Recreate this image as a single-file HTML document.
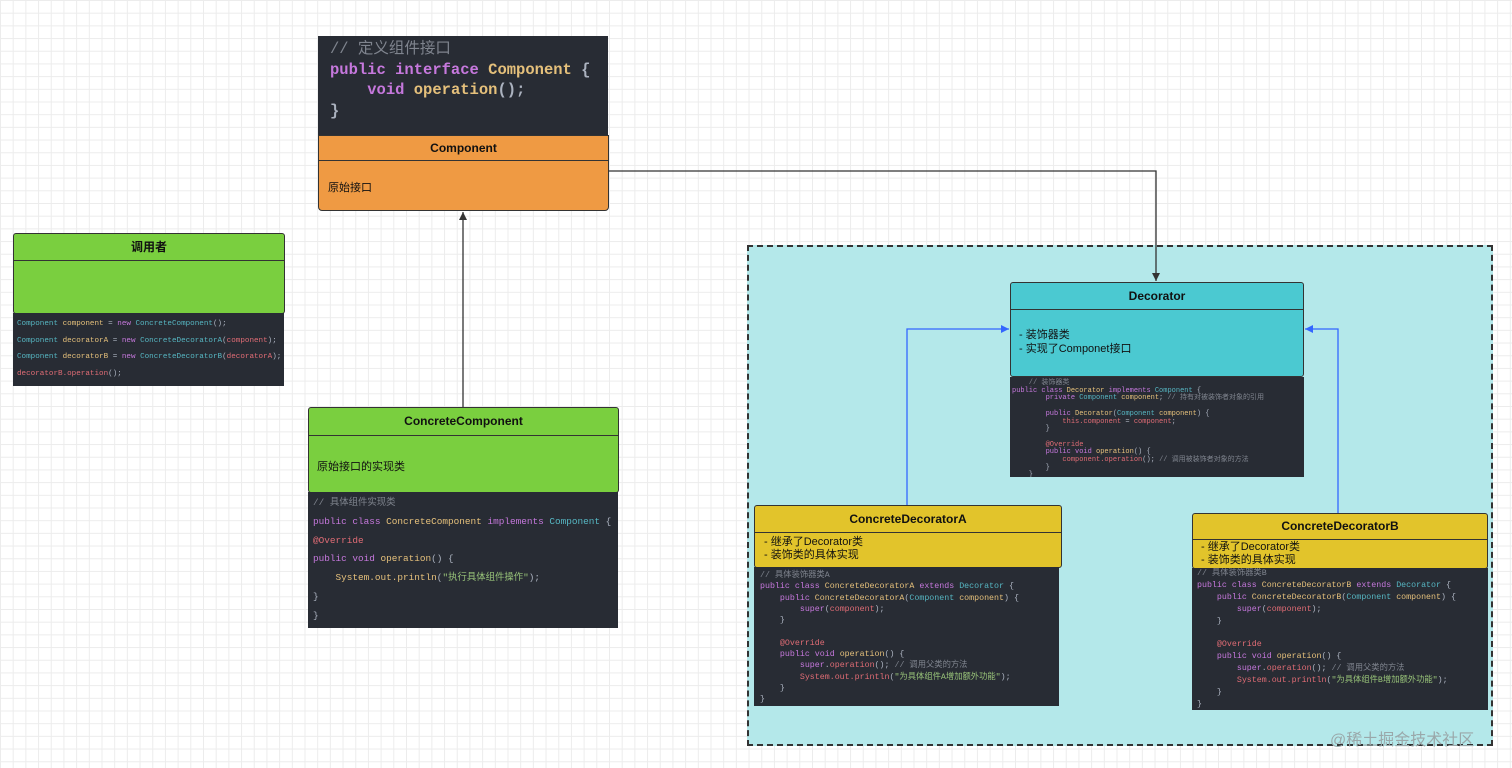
<!DOCTYPE html>
<html><head><meta charset="utf-8"><style>
*{margin:0;padding:0;box-sizing:border-box}
body{width:1512px;height:768px;position:relative;overflow:hidden;background-color:#fff;
background-image:linear-gradient(#ececec 1px,transparent 1px),linear-gradient(90deg,#ececec 1px,transparent 1px);
background-size:12.7px 12.7px;font-family:"Liberation Sans","Noto Sans CJK SC",sans-serif}
.a{position:absolute}
.code{position:absolute;background:#282c34;color:#abb2bf;font-family:"Liberation Mono","Noto Sans CJK SC",monospace;white-space:pre;overflow:hidden}
.k{color:#c678dd}.y{color:#e5c07b}.c{color:#56b6c2}.r{color:#e06c75}.g{color:#98c379}.m{color:#7f848e}
.box{position:absolute;border:1px solid #333;border-radius:3px;color:#111}
.hd{border-bottom:1px solid #333;font-weight:bold;font-size:12px;text-align:center}
</style></head><body>
<div class="a" style="left:747px;top:245px;width:746px;height:501px;background:#b4e8ea;border:2px dashed #333"></div>

<svg class="a" style="left:0;top:0" width="1512" height="768">
<defs>
<marker id="ab" markerWidth="10" markerHeight="10" refX="8" refY="5" orient="auto" markerUnits="userSpaceOnUse"><path d="M0,1 L8,5 L0,9z" fill="#333"/></marker>
<marker id="bb" markerWidth="10" markerHeight="10" refX="8" refY="5" orient="auto" markerUnits="userSpaceOnUse"><path d="M0,1 L8,5 L0,9z" fill="#3366ff"/></marker>
</defs>
<line x1="463" y1="407" x2="463" y2="212" stroke="#333" stroke-width="1.3" marker-end="url(#ab)"/>
<polyline points="608,171 1156,171 1156,281" fill="none" stroke="#333" stroke-width="1.3" marker-end="url(#ab)"/>
<polyline points="907,505 907,329 1009,329" fill="none" stroke="#3366ff" stroke-width="1.3" marker-end="url(#bb)"/>
<polyline points="1338,513 1338,329 1305,329" fill="none" stroke="#3366ff" stroke-width="1.3" marker-end="url(#bb)"/>
</svg>

<div class="code" style="left:318px;top:36px;width:290px;height:100px;font-size:15.5px;line-height:20.5px;padding:3px 0 0 12px;font-weight:bold"><span class="m" style="font-weight:normal">// 定义组件接口</span>
<span class="k">public interface</span> <span class="y">Component</span> {
    <span class="k">void</span> <span class="y">operation</span>();
}</div>
<div class="box" style="left:318px;top:135px;width:291px;height:76px;background:#ef9a43;border-radius:0 0 4px 4px">
<div class="hd" style="height:25px;line-height:24px">Component</div>
<div style="font-size:11px;padding:18px 0 0 9px">原始接口</div></div>

<div class="box" style="left:13px;top:233px;width:272px;height:81px;background:#7acf3f">
<div class="hd" style="height:27px;line-height:26px">调用者</div></div>
<div class="code" style="left:13px;top:313px;width:271px;height:73px;font-size:7.6px;line-height:16.5px;padding:3px 0 0 4px"><span class="c">Component</span> <span class="y">component</span> = <span class="k">new</span> <span class="c">ConcreteComponent</span>();
<span class="c">Component</span> <span class="y">decoratorA</span> = <span class="k">new</span> <span class="c">ConcreteDecoratorA</span>(<span class="r">component</span>);
<span class="c">Component</span> <span class="y">decoratorB</span> = <span class="k">new</span> <span class="c">ConcreteDecoratorB</span>(<span class="r">decoratorA</span>);
<span class="r">decoratorB.operation</span>();</div>

<div class="box" style="left:308px;top:407px;width:311px;height:86px;background:#7acf3f">
<div class="hd" style="height:28px;line-height:27px">ConcreteComponent</div>
<div style="font-size:11px;padding:22px 0 0 8px">原始接口的实现类</div></div>
<div class="code" style="left:308px;top:492px;width:310px;height:136px;font-size:9.4px;line-height:18.8px;padding:2px 0 0 5px"><span class="m">// 具体组件实现类</span>
<span class="k">public class</span> <span class="y">ConcreteComponent</span> <span class="k">implements</span> <span class="c">Component</span> {
<span class="r">@Override</span>
<span class="k">public void</span> <span class="y">operation</span>() {
    <span class="y">System.out.println</span>(<span class="g">"执行具体组件操作"</span>);
}
}</div>

<div class="box" style="left:1010px;top:282px;width:294px;height:95px;background:#4bc9d1">
<div class="hd" style="height:27px;line-height:26px">Decorator</div>
<div style="font-size:11px;line-height:14px;padding:18px 0 0 8px">- 装饰器类<br>- 实现了Componet接口</div></div>
<div class="code" style="left:1010px;top:377px;width:294px;height:100px;font-size:7px;line-height:7.7px;padding:3px 0 0 2px"><span class="m">    // 装饰器类</span>
<span class="k">public class</span> <span class="y">Decorator</span> <span class="k">implements</span> <span class="c">Component</span> {
        <span class="k">private</span> <span class="c">Component</span> <span class="y">component</span>; <span class="m">// 持有对被装饰者对象的引用</span>

        <span class="k">public</span> <span class="y">Decorator</span>(<span class="c">Component</span> <span class="y">component</span>) {
            <span class="r">this.component</span> = <span class="r">component</span>;
        }

        <span class="r">@Override</span>
        <span class="k">public void</span> <span class="y">operation</span>() {
            <span class="r">component.operation</span>(); <span class="m">// 调用被装饰者对象的方法</span>
        }
    }</div>

<div class="box" style="left:754px;top:505px;width:308px;height:63px;background:#e2c42b">
<div class="hd" style="height:27px;line-height:26px">ConcreteDecoratorA</div>
<div style="font-size:11px;line-height:13px;padding:3px 0 0 9px">- 继承了Decorator类<br>- 装饰类的具体实现</div></div>
<div class="code" style="left:754px;top:567px;width:305px;height:139px;font-size:8.3px;line-height:11.3px;padding:3px 0 0 6px"><span class="m">// 具体装饰器类A</span>
<span class="k">public class</span> <span class="y">ConcreteDecoratorA</span> <span class="k">extends</span> <span class="c">Decorator</span> {
    <span class="k">public</span> <span class="y">ConcreteDecoratorA</span>(<span class="c">Component</span> <span class="y">component</span>) {
        <span class="k">super</span>(<span class="r">component</span>);
    }

    <span class="r">@Override</span>
    <span class="k">public void</span> <span class="y">operation</span>() {
        <span class="k">super</span>.<span class="r">operation</span>(); <span class="m">// 调用父类的方法</span>
        <span class="r">System.out.println</span>(<span class="g">"为具体组件A增加额外功能"</span>);
    }
}</div>

<div class="box" style="left:1192px;top:513px;width:296px;height:56px;background:#e2c42b">
<div class="hd" style="height:26px;line-height:25px">ConcreteDecoratorB</div>
<div style="font-size:11px;line-height:13px;padding:1px 0 0 8px">- 继承了Decorator类<br>- 装饰类的具体实现</div></div>
<div class="code" style="left:1192px;top:568px;width:296px;height:142px;font-size:8.3px;line-height:11.9px;padding:0 0 0 5px"><span class="m">// 具体装饰器类B</span>
<span class="k">public class</span> <span class="y">ConcreteDecoratorB</span> <span class="k">extends</span> <span class="c">Decorator</span> {
    <span class="k">public</span> <span class="y">ConcreteDecoratorB</span>(<span class="c">Component</span> <span class="y">component</span>) {
        <span class="k">super</span>(<span class="r">component</span>);
    }

    <span class="r">@Override</span>
    <span class="k">public void</span> <span class="y">operation</span>() {
        <span class="k">super</span>.<span class="r">operation</span>(); <span class="m">// 调用父类的方法</span>
        <span class="r">System.out.println</span>(<span class="g">"为具体组件B增加额外功能"</span>);
    }
}</div>

<div class="a" style="left:1330px;top:726px;font-size:16px;color:#9aa8aa">@稀土掘金技术社区</div>
</body></html>
